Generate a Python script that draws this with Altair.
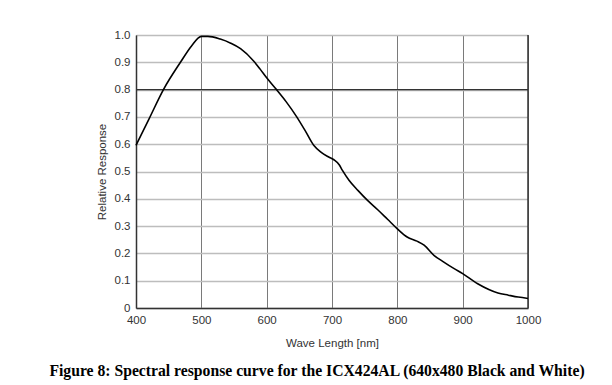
import altair as alt
import pandas as pd

wavelength = [400, 420, 442, 468, 485, 500, 510, 529, 545, 560, 580, 590, 600, 615, 630, 646,
              660, 672, 683, 695, 703, 711, 716, 726, 740, 754, 770, 785, 800, 815, 830,
              841, 856, 870, 887, 900, 923, 940, 954, 970, 985, 1000]
response = [0.596, 0.693, 0.80, 0.90, 0.96, 0.995, 0.995, 0.985, 0.97, 0.95, 0.905, 0.875, 0.843,
            0.80, 0.755, 0.70, 0.645, 0.596, 0.571, 0.553, 0.543, 0.525, 0.504, 0.468, 0.43,
            0.395, 0.36, 0.325, 0.29, 0.26, 0.245, 0.23, 0.193, 0.17, 0.144, 0.126, 0.089,
            0.068, 0.055, 0.047, 0.04, 0.035]
x_ticks = [400, 500, 600, 700, 800, 900, 1000]
y_ticks = [0, 0.1, 0.2, 0.3, 0.4, 0.5, 0.6, 0.7, 0.8, 0.9, 1.0]
dark_h = [0.8]
dark_v = [1000]

df = pd.DataFrame({"wl": wavelength, "resp": response})

xs = alt.Scale(domain=[400, 1000], nice=False, zero=False)
ys = alt.Scale(domain=[0, 1], nice=False)

x_axis = alt.Axis(values=x_ticks, title="Wave Length [nm]", grid=True, format="d",
                  gridColor="#7a7a7a", gridWidth=1, ticks=False,
                  domainColor="#333333", domainWidth=1.5, labelOverlap=False,
                  labelFont="Liberation Sans", labelFontSize=11.5, labelColor="#333333",
                  labelPadding=6, labelFlush=False,
                  titleFont="Liberation Sans", titleFontSize=11.5, titleFontWeight="normal",
                  titleColor="#333333", titlePadding=12)
y_axis = alt.Axis(values=y_ticks, title="Relative Response", grid=True,
                  gridColor="#bdbdbd", gridWidth=1.5, ticks=False,
                  domainColor="#333333", domainWidth=1.5, labelOverlap=False,
                  labelExpr="datum.value == 0 ? '0' : format(datum.value, '.1f')",
                  labelFont="Liberation Sans", labelFontSize=11.5, labelColor="#333333",
                  labelPadding=6,
                  titleFont="Liberation Sans", titleFontSize=11.5, titleFontWeight="normal",
                  titleColor="#333333", titlePadding=7)

line = alt.Chart(df).mark_line(color="#000000", strokeWidth=1.6, interpolate="monotone").encode(
    x=alt.X("wl:Q", scale=xs, axis=x_axis),
    y=alt.Y("resp:Q", scale=ys, axis=y_axis),
)

hrule = alt.Chart(pd.DataFrame({"y": dark_h})).mark_rule(color="#333333", strokeWidth=1.2).encode(
    y=alt.Y("y:Q", scale=ys, axis=y_axis))
vrule = alt.Chart(pd.DataFrame({"x": dark_v})).mark_rule(color="#333333", strokeWidth=1.5).encode(
    x=alt.X("x:Q", scale=xs, axis=x_axis))

chart = alt.layer(hrule, vrule, line).properties(
    width=392, height=273,
    autosize=alt.AutoSizeParams(type="none"),
    padding={"left": 128, "top": 27, "right": 76, "bottom": 77},
    title=alt.TitleParams(
        "Figure 8: Spectral response curve for the ICX424AL (640x480 Black and White)",
        orient="bottom", anchor="middle", font="Liberation Serif", fontSize=15.7,
        fontWeight="bold", color="#000000", offset=15, dx=-15),
).configure_view(stroke=None)

chart.save("out.html", embed_options={"renderer": "svg", "actions": False})
